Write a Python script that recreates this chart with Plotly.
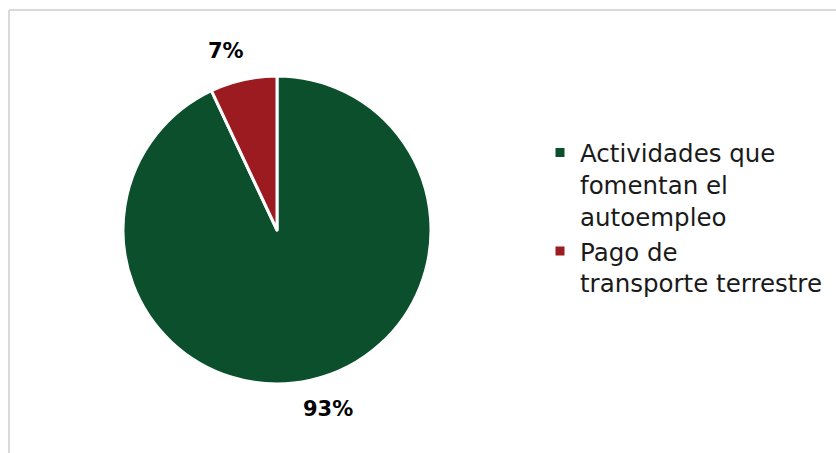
import math
import plotly.graph_objects as go

labels = ["Actividades que<br>fomentan el<br>autoempleo", "Pago de<br>transporte terrestre"]
values = [93, 7]
colors = ["#0B4F2C", "#9B1B20"]

W, H = 836, 453
cx, cy, R = 277, 230, 154  # pie centre/radius in pixels (layout)

fig = go.Figure(go.Pie(
    labels=labels,
    values=values,
    sort=False,
    direction="clockwise",
    rotation=0,
    marker=dict(colors=colors, line=dict(color="white", width=3)),
    textinfo="none",
    domain=dict(x=[(cx - R) / W, (cx + R) / W], y=[(H - cy - R) / H, (H - cy + R) / H]),
    hoverinfo="label+percent",
))

# percentage labels placed outside each slice along its mid-angle
total = sum(values)
annotations = []
cum = 0
for v in values:
    mid = (cum + v / 2) / total * 2 * math.pi
    cum += v
    ang = mid - 0.06
    px = cx + 1.21 * R * math.sin(ang)
    py = cy - 1.21 * R * math.cos(ang)
    annotations.append(dict(
        x=px / W, y=1 - py / H, xref="paper", yref="paper",
        text="<b>%d%%</b>" % round(v / total * 100), showarrow=False,
        font=dict(family="DejaVu Sans", size=21, color="#000000"),
        xanchor="center", yanchor="middle",
    ))

fig.update_layout(
    width=W, height=H,
    margin=dict(l=0, r=0, t=0, b=0),
    paper_bgcolor="white",
    plot_bgcolor="white",
    showlegend=True,
    legend=dict(
        x=540 / W, y=1 - 218 / H, xanchor="left", yanchor="middle",
        font=dict(family="DejaVu Sans", size=24.5, color="#1a1a1a"),
        valign="top", itemwidth=30, traceorder="normal",
    ),
    annotations=annotations,
    shapes=[
        dict(type="line", xref="paper", yref="paper", x0=9 / W, x1=1.02, y0=1 - 10 / H, y1=1 - 10 / H,
             line=dict(color="#d9d9d9", width=2)),
        dict(type="line", xref="paper", yref="paper", x0=9 / W, x1=9 / W, y0=1 - 10 / H, y1=-0.02,
             line=dict(color="#d9d9d9", width=2)),
    ],
)

fig.write_html("out.html", config={"displayModeBar": False},
               post_script="document.body.style.margin='0';")
